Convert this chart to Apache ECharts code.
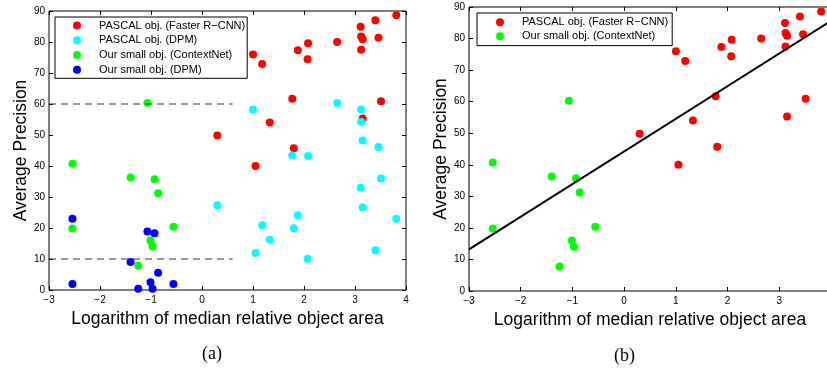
<!DOCTYPE html>
<html>
<head>
<meta charset="utf-8">
<script src="https://cdn.jsdelivr.net/npm/echarts@6.0.0/dist/echarts.min.js"></script>
<style>
  html, body { margin: 0; padding: 0; background: #fff; }
  #chart { width: 827px; height: 368px; }
</style>
</head>
<body>
<div id="chart"></div>
<script>
// PASCAL objects, Faster R-CNN
const redX = [3.81, 3.40, 3.11, 3.12, 3.15, 3.46, 2.65, 2.08, 1.88, 3.12, 1.00, 2.07, 1.18, 1.77, 3.51, 3.15, 1.33, 0.30, 1.80, 1.05];
const redY = [88.6, 87.0, 84.9, 81.8, 80.9, 81.4, 80.0, 79.6, 77.3, 77.5, 76.0, 74.4, 72.9, 61.7, 60.9, 55.3, 54.0, 49.8, 45.7, 40.0];
// PASCAL objects, DPM
const cyanX = [2.65, 1.00, 3.12, 3.12, 3.15, 3.46, 1.77, 2.08, 3.51, 3.11, 0.30, 3.15, 1.88, 3.81, 1.18, 1.80, 1.33, 1.05, 3.40, 2.07];
const cyanY = [60.3, 58.2, 58.2, 54.2, 48.2, 46.1, 43.4, 43.2, 36.0, 33.0, 27.3, 26.7, 24.1, 23.0, 20.9, 19.9, 16.2, 11.9, 12.8, 10.1];
// our small objects, ContextNet
const greenX = [-1.07, -2.54, -1.40, -0.93, -0.86, -2.54, -0.56, -1.01, -0.97, -1.25];
const greenY = [60.3, 40.7, 36.3, 35.7, 31.2, 19.8, 20.4, 16.0, 14.0, 7.8];
// our small objects, DPM
const blueX = [-2.54, -1.07, -0.93, -1.40, -0.86, -1.01, -2.54, -0.56, -1.25, -0.97];
const blueY = [23.0, 18.9, 18.3, 9.0, 5.6, 2.5, 1.9, 1.9, 0.4, 0.4];

// dashed reference levels in (a)
const dashLevels = [60, 10];
const dashXRange = [-3, 0.6];
// fitted line in (b)
const fitX = [-3, 4];
const fitY = [13.2, 85.6];

const xTicks = { min: -3, max: 4, interval: 1 };
const yTicks = { min: 0, max: 90, interval: 10 };

const seriesNames = [
  'PASCAL obj. (Faster R\u2212CNN)',
  'PASCAL obj. (DPM)',
  'Our small obj. (ContextNet)',
  'Our small obj. (DPM)'
];
const colors = ['#ff0000', '#00ffff', '#00ff00', '#0000ff'];

const FONT = "'Liberation Sans', Arial, sans-serif";
const pts = (xs, ys) => xs.map((x, i) => [x, ys[i]]);
const minus = (v) => String(v).replace('-', '\u2212');
const tick = { inside: true, length: 4, lineStyle: { color: '#000' } };

function xAxes(gridIndex) {
  return [
    {
      gridIndex, type: 'value', position: 'bottom', ...xTicks,
      name: 'Logarithm of median relative object area',
      nameLocation: 'middle', nameGap: 17,
      nameTextStyle: { fontFamily: FONT, fontSize: 17.5, color: '#000' },
      axisLine: { show: false, onZero: false },
      axisTick: tick,
      axisLabel: { fontFamily: FONT, fontSize: 10, color: '#000', margin: 5, formatter: minus },
      splitLine: { show: false }
    },
    {
      gridIndex, type: 'value', position: 'top', ...xTicks,
      axisLine: { show: false, onZero: false },
      axisTick: tick,
      axisLabel: { show: false },
      splitLine: { show: false }
    }
  ];
}

function yAxes(gridIndex) {
  return [
    {
      gridIndex, type: 'value', position: 'left', ...yTicks,
      name: 'Average Precision',
      nameLocation: 'middle', nameGap: 19,
      nameTextStyle: { fontFamily: FONT, fontSize: 17.5, color: '#000' },
      axisLine: { show: false, onZero: false },
      axisTick: tick,
      axisLabel: { fontFamily: FONT, fontSize: 10, color: '#000', margin: 4 },
      splitLine: { show: false }
    },
    {
      gridIndex, type: 'value', position: 'right', ...yTicks,
      axisLine: { show: false, onZero: false },
      axisTick: tick,
      axisLabel: { show: false },
      splitLine: { show: false }
    }
  ];
}

function scatter(nameIdx, xs, ys, axisIdx) {
  return {
    name: seriesNames[nameIdx], type: 'scatter',
    xAxisIndex: axisIdx, yAxisIndex: axisIdx,
    data: pts(xs, ys),
    symbol: 'circle', symbolSize: 8,
    itemStyle: { color: colors[nameIdx], opacity: 1 },
    silent: true
  };
}

const legendBase = {
  orient: 'vertical',
  icon: 'circle',
  itemWidth: 8, itemHeight: 8,
  itemGap: 2.7,
  borderColor: '#000', borderWidth: 1,
  backgroundColor: '#fff',
  selectedMode: false,
  textStyle: { fontFamily: FONT, fontSize: 11, color: '#000', lineHeight: 12, padding: [0, 0, 0, 13] }
};

const chart = echarts.init(document.getElementById('chart'));
chart.setOption({
  animation: false,
  backgroundColor: '#fff',
  title: [
    { text: '(a)', left: 197, top: 340, textStyle: { fontFamily: "'Liberation Serif', serif", fontSize: 18, fontWeight: 'normal', color: '#000' } },
    { text: '(b)', left: 609, top: 342, textStyle: { fontFamily: "'Liberation Serif', serif", fontSize: 18, fontWeight: 'normal', color: '#000' } }
  ],
  grid: [
    { left: 49, top: 11, width: 357, height: 279, show: true, borderColor: '#000', borderWidth: 1, backgroundColor: 'transparent', outerBoundsMode: 'none' },
    { left: 469, top: 7, width: 362, height: 284, show: true, borderColor: '#000', borderWidth: 1, backgroundColor: 'transparent', outerBoundsMode: 'none' }
  ],
  xAxis: [...xAxes(0), ...xAxes(1)],
  yAxis: [...yAxes(0), ...yAxes(1)],
  legend: [
    { ...legendBase, data: seriesNames, left: 55, top: 17, padding: [2.6, 2, 2.6, 18] },
    { ...legendBase, data: [seriesNames[0], seriesNames[2]], itemGap: 2, left: 477, top: 13, padding: [3.3, 4, 3.3, 19] }
  ],
  series: [
    ...dashLevels.map((lvl) => ({
      type: 'line', xAxisIndex: 0, yAxisIndex: 0,
      data: dashXRange.map((x) => [x, lvl]),
      symbol: 'none', silent: true,
      lineStyle: { color: '#333', width: 1, type: [7, 5] }
    })),
    scatter(0, redX, redY, 0),
    scatter(1, cyanX, cyanY, 0),
    scatter(2, greenX, greenY, 0),
    scatter(3, blueX, blueY, 0),
    {
      type: 'line', xAxisIndex: 2, yAxisIndex: 2,
      data: pts(fitX, fitY),
      symbol: 'none', silent: true,
      lineStyle: { color: '#000', width: 2 }
    },
    scatter(0, redX, redY, 2),
    scatter(2, greenX, greenY, 2)
  ]
});
</script>
</body>
</html>
